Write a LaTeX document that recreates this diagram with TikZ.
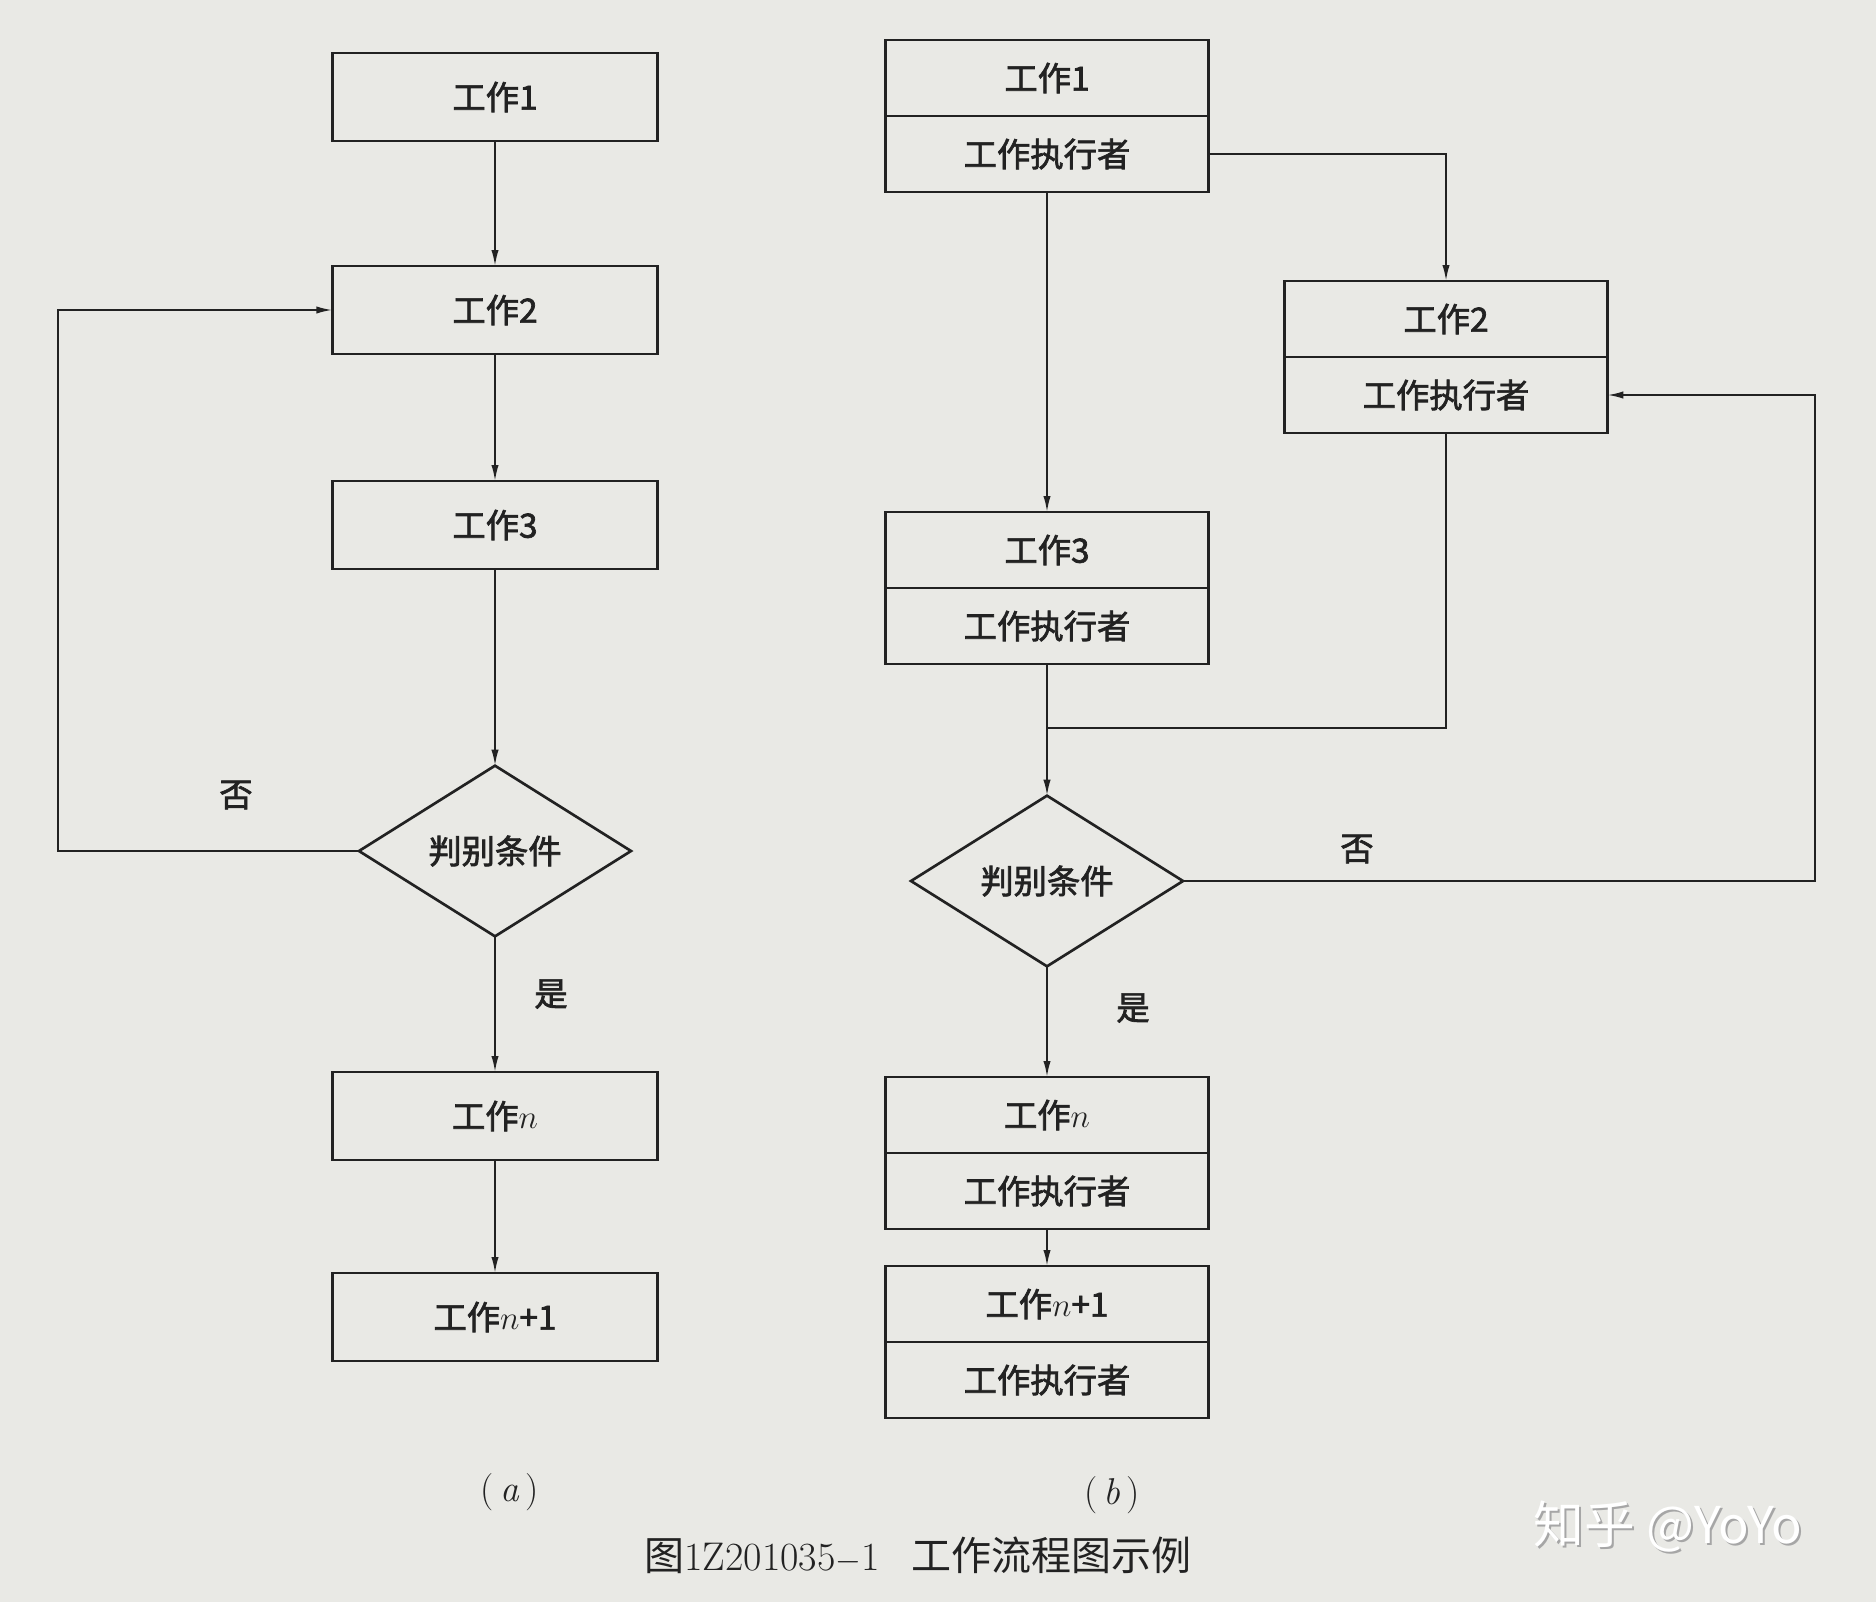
\documentclass[tikz,border=0pt]{standalone}
\usepackage{fontspec}
\usepackage{amsmath}
\usepackage{tikz}
\usetikzlibrary{positioning,shapes.geometric,arrows.meta}
\newfontfamily\cjk{Noto Sans CJK SC}[FakeBold=2]
\newfontfamily\cjkthin{Noto Sans CJK SC}
\definecolor{paper}{RGB}{233,233,229}
\definecolor{ink}{RGB}{34,34,34}

\begin{document}
\begin{tikzpicture}[x=0.75pt,y=0.75pt,yscale=-1,xscale=1,
  box/.style={draw=ink,line width=2pt,minimum width=244pt,minimum height=66pt,inner sep=0pt,outer sep=0pt,text=ink,font=\cjk\fontsize{25}{28}\selectfont},
  cell/.style={box,minimum width=242pt,minimum height=57pt},
  cond/.style={draw=ink,line width=2pt,diamond,shape aspect=1.6,minimum width=204pt,minimum height=128pt,inner sep=0pt,outer sep=0pt,text=ink,font=\cjk\fontsize{25}{28}\selectfont},
  flow/.style={draw=ink,line width=1.4pt,-{Latex[length=12pt,width=5.5pt]}},
  link/.style={draw=ink,line width=1.4pt},
  lab/.style={text=ink,font=\cjk\fontsize{25}{28}\selectfont}]
%page
\fill[paper] (0,0) rectangle (1876,1602);
\useasboundingbox (0,0) rectangle (1876,1602);

%(a)
% Shape: Rectangle
\node[box] (w1a) at (495,97) {工作1};
\node[box] (w2a) at (495,310) {工作2};
\node[box] (w3a) at (495,525) {工作3};
% Shape: Diamond
\node[cond] (conda) at (495,851) {判别条件};
\node[box] (wna) at (495,1116) {工作$n$};
\node[box] (wn1a) at (495,1317) {工作$n$+1};
\coordinate (loopa) at (58,851);
%Straight Lines
\draw[flow] (w1a.south) -- (w2a.north);
\draw[flow] (w2a.south) -- (w3a.north);
\draw[flow] (w3a.south) -- (conda.north);
\draw[flow] (conda.south) -- (wna.north);
\draw[flow] (wna.south) -- (wn1a.north);
\draw[flow] (conda.west) -- (loopa) |- (w2a.west);
% Text Node
\node[lab] (noa) at (236,795) {否};
\node[lab] (yesa) at (551,994) {是};
\node[text=ink,font=\fontsize{28}{32}\selectfont] (capa) at (510,1492) {(\,\textit{a}\,)};

%(b)
% Shape: Rectangle
\node[cell] (b1t) at (1047,78) {工作1};
\node[cell,below=0pt of b1t] (b1b) {工作执行者};
\node[cell] (b2t) at (1446,319) {工作2};
\node[cell,below=0pt of b2t] (b2b) {工作执行者};
\node[cell] (b3t) at (1047,550) {工作3};
\node[cell,below=0pt of b3t] (b3b) {工作执行者};
% Shape: Diamond
\node[cond] (condb) at (1047,881) {判别条件};
\node[cell] (bnt) at (1047,1115) {工作$n$};
\node[cell,below=0pt of bnt] (bnb) {工作执行者};
\node[cell] (bn1t) at (1047,1304) {工作$n$+1};
\node[cell,below=0pt of bn1t] (bn1b) {工作执行者};
\coordinate (mergeb) at (1047,728);
\coordinate (loopb) at (1815,881);
%Straight Lines
\draw[flow] (b1b.east) -| (b2t.north);
\draw[flow] (b1b.south) -- (b3t.north);
\draw[link] (b2b.south) |- (mergeb);
\draw[flow] (b3b.south) -- (condb.north);
\draw[flow] (condb.east) -- (loopb) |- (b2b.east);
\draw[flow] (condb.south) -- (bnt.north);
\draw[flow] (bnb.south) -- (bn1t.north);
% Text Node
\node[lab] (nob) at (1357,849) {否};
\node[lab] (yesb) at (1133,1008) {是};
\node[text=ink,font=\fontsize{28}{32}\selectfont] (capb) at (1112,1495) {(\,\textit{b}\,)};

%caption
\node[text=ink,font=\fontsize{30}{33}\selectfont] (title) at (918,1555) {{\cjkthin 图}1Z201035$-$1\hspace{24pt}{\cjkthin 工作流程图示例}};
%watermark
\node[text=black!35,font=\cjkthin\fontsize{38}{42}\selectfont] (markshade) at (1670,1529) {知乎 @YoYo};
\node[text=white,font=\cjkthin\fontsize{38}{42}\selectfont] (mark) at (1668,1527) {知乎 @YoYo};
\end{tikzpicture}
\end{document}
